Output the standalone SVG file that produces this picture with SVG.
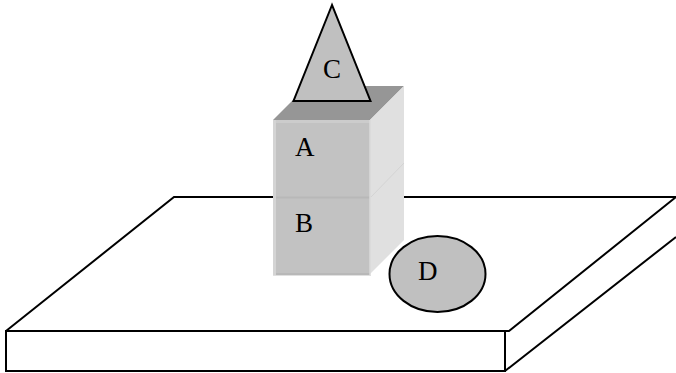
<svg xmlns="http://www.w3.org/2000/svg" width="676" height="373" viewBox="0 0 676 373">
<style>
.o{fill:none;stroke:#000;stroke-width:2;stroke-linejoin:miter}
.g{fill:#c0c0c0;stroke:#000;stroke-width:2}
text{font-family:"Liberation Serif","Times New Roman",serif;font-size:27px;fill:#000}
</style>
<rect width="676" height="373" fill="#fff"/>
<g id="platform">
<path class="o" d="M6 331L174 197H676M676 197L509 331H6V371H505V331M505 371L676 237"/>
</g>
<g id="cube">
<path d="M273 120L307 86H404L370 120Z" fill="#969696"/>
<path d="M370 120L404 86V240L370 274Z" fill="#e0e0e0"/>
<rect x="273" y="120" width="97" height="155" fill="#c2c2c2"/>
<path d="M273 121.500H370" fill="none" stroke="#cccccc" stroke-width="3"/>
<path d="M274.500 120V276" fill="none" stroke="#d4d4d4" stroke-width="3"/>
<path d="M276 197.500H370M276 274H370" fill="none" stroke="#b8b8b8" stroke-width="2"/>
<path d="M273 275.500H371" fill="none" stroke="#e0e0e0" stroke-width="1"/>
<path d="M370 120V275" fill="none" stroke="#dadada" stroke-width="1.500"/>
<path d="M371 197L404 163" fill="none" stroke="#d4d4d4" stroke-width="1"/>
</g>
<g id="node-a"><text x="295" y="156">A</text></g>
<g id="node-b"><text x="295" y="232">B</text></g>
<g id="node-c">
<path class="g" d="M332 5L293.500 101H370.500Z"/>
<text x="323" y="78">C</text>
</g>
<g id="node-d">
<ellipse class="g" cx="437.500" cy="274" rx="48" ry="38"/>
<text x="418" y="280">D</text>
</g>
</svg>
